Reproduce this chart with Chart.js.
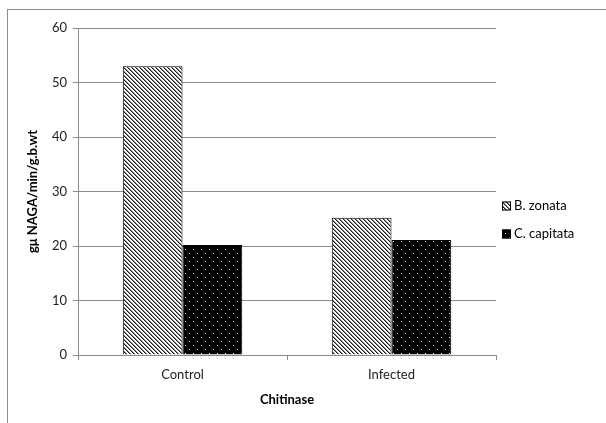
<!DOCTYPE html>
<html>
<head>
<meta charset="utf-8">
<script src="https://cdn.jsdelivr.net/npm/chart.js@4"></script>
<style>
  html, body { margin: 0; padding: 0; background: #fff; }
  #wrap { position: relative; width: 606px; height: 423px; }
  #frame { position: absolute; left: 7px; top: 9px; right: -2px; bottom: -2px;
           border-top: 1px solid #8c8c8c; border-left: 1px solid #8c8c8c; pointer-events: none; }
  canvas { display: block; }
</style>
</head>
<body>
<div id="wrap">
  <canvas id="c" width="606" height="423"></canvas>
  <div id="frame"></div>
</div>
<script>
// Chitinase activity by treatment
const categories = ['Control', 'Infected'];
const seriesNames = ['B. zonata', 'C. capitata'];
const bZonata = [53.0, 25.2];
const cCapitata = [20.2, 21.1];
const yTicks = [0, 10, 20, 30, 40, 50, 60];

const FONT = "Lato, 'Open Sans', 'Liberation Sans', sans-serif";

// Fill patterns built pixel by pixel so they stay crisp
function makePattern(w, h, bg, pixels) {
  const c = document.createElement('canvas');
  c.width = w; c.height = h;
  const g = c.getContext('2d');
  g.fillStyle = bg; g.fillRect(0, 0, w, h);
  pixels.forEach(([x, y, col]) => { g.fillStyle = col; g.fillRect(x, y, 1, 1); });
  return g.createPattern(c, 'repeat');
}
const ctx = document.getElementById('c').getContext('2d');
// downward diagonal hatch
const hatch = makePattern(4, 4, '#ffffff', [
  [0, 0, '#1a1a1a'], [1, 1, '#1a1a1a'], [2, 2, '#1a1a1a'], [3, 3, '#1a1a1a'],
  [1, 0, '#8a8a8a'], [2, 1, '#8a8a8a'], [3, 2, '#8a8a8a'], [0, 3, '#8a8a8a']
]);
// small dots on black
const dots = makePattern(8, 8, '#000000', [
  [1, 1, '#ffffff'], [5, 5, '#bdbdbd']
]);

const legendPlugin = {
  id: 'sideLegend',
  afterDraw(chart) {
    const c = chart.ctx;
    const items = chart.data.datasets;
    const x0 = 502, ys = [206, 234];
    c.save();
    c.font = "13px " + FONT;
    c.textBaseline = 'middle';
    items.forEach((ds, i) => {
      const y = ys[i];
      c.fillStyle = ds.backgroundColor;
      c.fillRect(x0, y - 4.5, 9, 9);
      c.strokeStyle = '#000';
      c.lineWidth = 1;
      c.strokeRect(x0 + 0.5, y - 4, 8, 8);
      c.fillStyle = '#000';
      c.fillText(ds.label, x0 + 12, y);
    });
    c.restore();
  }
};

new Chart(ctx, {
  type: 'bar',
  data: {
    labels: categories,
    datasets: [
      { label: seriesNames[0], data: bZonata, backgroundColor: hatch, borderColor: '#000', borderWidth: 1 },
      { label: seriesNames[1], data: cCapitata, backgroundColor: dots, borderColor: '#000', borderWidth: 1 }
    ]
  },
  options: {
    responsive: false,
    animation: false,
    events: [],
    layout: { padding: { left: 0, top: 28, right: 110, bottom: 0 } },
    datasets: { bar: { categoryPercentage: 1 / 1.75, barPercentage: 1 } },
    plugins: { legend: { display: false }, tooltip: { enabled: false } },
    scales: {
      x: {
        afterFit(s) { s.height = 68; },
        grid: { display: true, drawOnChartArea: false, drawTicks: true, tickLength: 5, offset: true, color: '#8c8c8c' },
        border: { color: '#8c8c8c', width: 1 },
        ticks: { color: '#222', padding: 7, font: { family: FONT, size: 13 } },
        title: { display: true, text: 'Chitinase', color: '#000', padding: { top: 0, bottom: 15 },
                 font: { family: FONT, size: 13, weight: 'bold' } }
      },
      y: {
        min: 0, max: 60,
        afterFit(s) { s.width = 78; },
        afterBuildTicks(s) { s.ticks = yTicks.map(v => ({ value: v })); },
        grid: { color: '#8c8c8c', tickLength: 5, drawTicks: true },
        border: { color: '#8c8c8c', width: 1 },
        ticks: { color: '#222', padding: 6, font: { family: FONT, size: 13 } },
        title: { display: true, text: 'gμ NAGA/min/g.b.wt', color: '#000', padding: { top: 25, bottom: 0 },
                 font: { family: FONT, size: 13, weight: 'bold' } }
      }
    }
  },
  plugins: [legendPlugin]
});
</script>
</body>
</html>
